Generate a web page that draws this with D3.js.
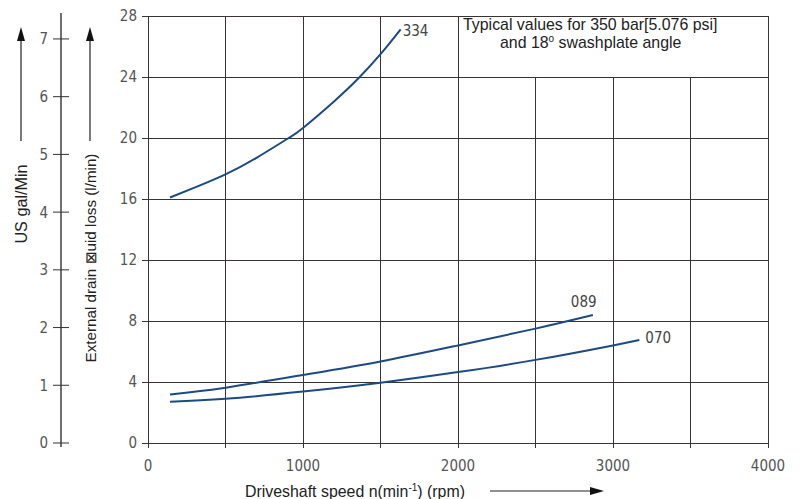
<!DOCTYPE html>
<html><head><meta charset="utf-8">
<script src="https://cdn.jsdelivr.net/npm/d3@7"></script>
<style>body{margin:0;background:#fff}svg{display:block}</style>
</head><body>
<svg id="c" width="802" height="499"></svg>
<script>
// Data (rpm, l/min)
const series334 = [[142,16.1],[300,16.75],[500,17.62],[700,18.7],[900,19.95],[1000,20.66],[1200,22.4],[1361,23.95],[1500,25.5],[1630,27.13]];
const series089 = [[142,3.18],[500,3.63],[1000,4.46],[1500,5.35],[2000,6.4],[2500,7.5],[2870,8.39]];
const series070 = [[142,2.71],[500,2.9],[1000,3.37],[1500,3.95],[2000,4.65],[2500,5.45],[3000,6.4],[3170,6.75]];
const curveNames = ["334","089","070"];
const xTicks = [0,1000,2000,3000,4000];
const xGrid = [0,500,1000,1500,2000,2500,3000,3500,4000];
const yTicks = [0,4,8,12,16,20,24,28];
const galTicks = [0,1,2,3,4,5,6,7];
const LPG = 3.785;

const svg = d3.select("#c");
const x = d3.scaleLinear().domain([0,4000]).range([148,768]);
const y = d3.scaleLinear().domain([0,28]).range([443,16]);
const yg = d3.scaleLinear().domain([0,28/LPG]).range([443,16]);
const numFont = "'DejaVu Sans Condensed','DejaVu Sans',sans-serif";
const txtFont = "'Liberation Sans',Arial,sans-serif";
const gridCol = "#3a3333";

// Horizontal gridlines
svg.append("g").selectAll("line").data(yTicks).join("line")
  .attr("x1", 142).attr("x2", x(4000)).attr("y1", d=>y(d)).attr("y2", d=>y(d))
  .attr("stroke", gridCol).attr("stroke-width", 1).attr("shape-rendering","crispEdges");
// Vertical gridlines
svg.append("g").selectAll("line").data(xGrid).join("line")
  .attr("x1", d=>x(d)).attr("x2", d=>x(d)).attr("y1", y(0)+5).attr("y2", y(28))
  .attr("stroke", gridCol).attr("stroke-width", 1).attr("shape-rendering","crispEdges");

// Annotation box
svg.append("rect").attr("x", x(2000)).attr("y", y(28)).attr("width", x(4000)-x(2000)).attr("height", y(24)-y(28))
  .attr("fill","#fff").attr("stroke", gridCol).attr("stroke-width",1).attr("shape-rendering","crispEdges");
const ann = svg.append("text").attr("font-family", txtFont).attr("font-size", 15.9).attr("fill","#222");
ann.append("tspan").attr("x", 463).attr("y", 30).text("Typical values for 350 bar[5.076 psi]");
ann.append("tspan").attr("x", 500).attr("y", 48).text("and 18");
ann.append("tspan").attr("font-size", 10).attr("dy", -6).text("o");
ann.append("tspan").attr("dy", 6).text(" swashplate angle");

// Y tick labels (l/min)
svg.append("g").selectAll("text").data(yTicks).join("text")
  .attr("x", 137).attr("y", d=>y(d)).attr("dy","0.36em").attr("text-anchor","end")
  .attr("font-family", numFont).attr("font-size", 15).attr("fill","#555").text(d=>d);
// X tick labels
svg.append("g").selectAll("text").data(xTicks).join("text")
  .attr("x", d=>x(d)).attr("y", 471).attr("text-anchor","middle")
  .attr("font-family", numFont).attr("font-size", 15).attr("fill","#555").text(d=>d);

// Left gal axis
svg.append("line").attr("x1",61).attr("x2",61).attr("y1",13).attr("y2",447).attr("stroke","#222").attr("stroke-width",1.3);
svg.append("g").selectAll("line").data(galTicks).join("line")
  .attr("x1",53).attr("x2",69).attr("y1",d=>yg(d)).attr("y2",d=>yg(d)).attr("stroke","#333").attr("stroke-width",1);
svg.append("g").selectAll("text").data(galTicks).join("text")
  .attr("x", 48).attr("y", d=>yg(d)).attr("dy","0.36em").attr("text-anchor","end")
  .attr("font-family", numFont).attr("font-size", 15).attr("fill","#555").text(d=>d);

// Arrows
function vArrow(cx){
  svg.append("line").attr("x1",cx).attr("x2",cx).attr("y1",141).attr("y2",38).attr("stroke","#222").attr("stroke-width",1.2);
  svg.append("path").attr("d",`M${cx},27 L${cx-4},41 L${cx+4},41 Z`).attr("fill","#111");
}
vArrow(21); vArrow(90);
svg.append("line").attr("x1",490).attr("x2",592).attr("y1",491).attr("y2",491).attr("stroke","#222").attr("stroke-width",1.2);
svg.append("path").attr("d","M604,491 L590,487 L590,495 Z").attr("fill","#111");

// Axis titles
svg.append("text").attr("transform","translate(27,204) rotate(-90)").attr("text-anchor","middle")
  .attr("font-family", txtFont).attr("font-size", 16.2).attr("fill","#222").text("US gal/Min");
svg.append("text").attr("transform","translate(96,258) rotate(-90)").attr("text-anchor","middle")
  .attr("font-family", txtFont).attr("font-size", 15.2).attr("fill","#222").text("External drain \u22A0uid loss (l/min)");
const xt = svg.append("text").attr("x",245).attr("y",497).attr("font-family", txtFont).attr("font-size", 15.9).attr("fill","#222");
xt.append("tspan").text("Driveshaft speed n(min");
xt.append("tspan").attr("font-size",10).attr("dy",-6).text("-1");
xt.append("tspan").attr("dy",6).text(") (rpm)");

// Curves
const line = d3.line().x(d=>x(d[0])).y(d=>y(d[1])).curve(d3.curveNatural);
const all = [series334, series089, series070];
svg.append("g").selectAll("path").data(all).join("path")
  .attr("d", line).attr("fill","none").attr("stroke","#1d4a85").attr("stroke-width",2);

// Curve labels
const labelPos = [[series334, 2, 1],[series089, -22, -13],[series070, 6, -2]];
svg.append("g").selectAll("text").data(labelPos).join("text")
  .attr("x", d=>x(d[0][d[0].length-1][0]) + d[1])
  .attr("y", d=>y(d[0][d[0].length-1][1]) + d[2])
  .attr("dy","0.36em")
  .attr("font-family", numFont).attr("font-size", 15).attr("fill","#444")
  .text((d,i)=>curveNames[i]);
</script>
</body></html>
